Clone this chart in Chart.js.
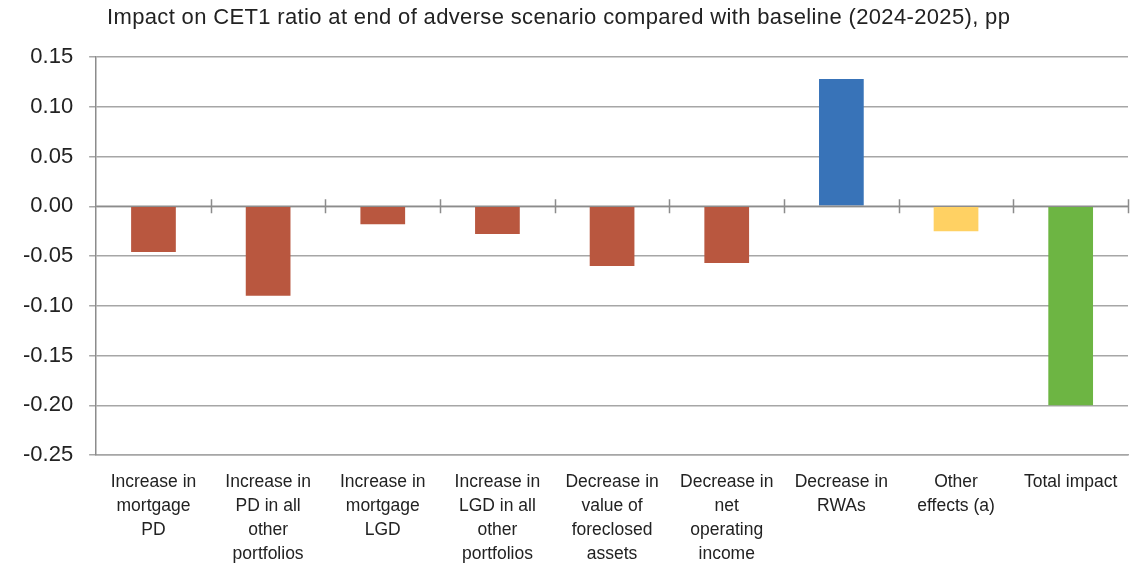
<!DOCTYPE html>
<html>
<head>
<meta charset="utf-8">
<script src="https://cdn.jsdelivr.net/npm/chart.js@4/dist/chart.umd.min.js"></script>
<style>
  html, body { margin: 0; padding: 0; background: #fff; }
  #wrap { position: relative; width: 1148px; height: 565px; }
  #title { position: absolute; left: 107px; top: 4px; font-family: 'Liberation Sans', Arial, sans-serif; font-size: 22px; letter-spacing: 0.35px; color: #222; white-space: nowrap; }
  canvas { position: absolute; left: 0; top: 0; }
</style>
</head>
<body>
<div id="wrap">
  <canvas id="c" width="1148" height="565"></canvas>
  <div id="title">Impact on CET1 ratio at end of adverse scenario compared with baseline (2024-2025), pp</div>
</div>
<script>
const categories = [
  ['Increase in', 'mortgage', 'PD'],
  ['Increase in', 'PD in all', 'other', 'portfolios'],
  ['Increase in', 'mortgage', 'LGD'],
  ['Increase in', 'LGD in all', 'other', 'portfolios'],
  ['Decrease in', 'value of', 'foreclosed', 'assets'],
  ['Decrease in', 'net', 'operating', 'income'],
  ['Decrease in', 'RWAs'],
  ['Other', 'effects (a)'],
  ['Total impact']
];
const values = [-0.046, -0.090, -0.018, -0.028, -0.060, -0.057, 0.128, -0.025, -0.200];
const barColors = ['#B9573F', '#B9573F', '#B9573F', '#B9573F', '#B9573F', '#B9573F', '#3873B8', '#FFD163', '#6DB543'];
const yMin = -0.25, yMax = 0.15, yStep = 0.05;

const zeroTicks = {
  id: 'zeroTicks',
  afterDatasetsDraw(chart) {
    const xs = chart.scales.x, ys = chart.scales.y;
    const ctx = chart.ctx;
    const y0 = ys.getPixelForValue(0);
    ctx.save();
    ctx.strokeStyle = '#8c8c8c';
    ctx.lineWidth = 1.5;
    ctx.beginPath();
    ctx.moveTo(xs.left, y0);
    ctx.lineTo(xs.right, y0);
    for (let i = 1; i <= categories.length; i++) {
      const x = Math.round(xs.getPixelForValue(i - 0.5)) + 0.5;
      ctx.moveTo(x, y0 - 7);
      ctx.lineTo(x, y0 + 7);
    }
    ctx.stroke();
    ctx.restore();
  }
};

new Chart(document.getElementById('c'), {
  type: 'bar',
  data: {
    labels: categories,
    datasets: [{
      data: values,
      backgroundColor: barColors,
      borderWidth: 0,
      barPercentage: 0.39,
      categoryPercentage: 1.0
    }]
  },
  options: {
    responsive: false,
    animation: false,
    devicePixelRatio: 1,
    layout: { padding: { top: 57, right: 20, left: 7, bottom: 0 } },
    plugins: { legend: { display: false }, tooltip: { enabled: false }, title: { display: false } },
    scales: {
      x: {
        afterFit: s => { s.height = 110; },
        grid: { display: false, drawTicks: false },
        border: { display: true, color: '#a6a6a6', width: 1.5 },
        ticks: {
          color: '#222',
          maxRotation: 0,
          autoSkip: false,
          padding: 15,
          font: { family: "'Liberation Sans', Arial, sans-serif", size: 17.5, lineHeight: 1.37 }
        }
      },
      y: {
        min: yMin, max: yMax,
        grid: { color: '#a6a6a6', lineWidth: 1.5, drawTicks: true, tickLength: 7 },
        border: { display: true, color: '#8c8c8c', width: 1.5 },
        ticks: {
          stepSize: yStep,
          color: '#222',
          padding: 16,
          font: { family: "'Liberation Sans', Arial, sans-serif", size: 22 },
          callback: v => v.toFixed(2)
        }
      }
    }
  },
  plugins: [zeroTicks]
});
</script>
</body>
</html>
